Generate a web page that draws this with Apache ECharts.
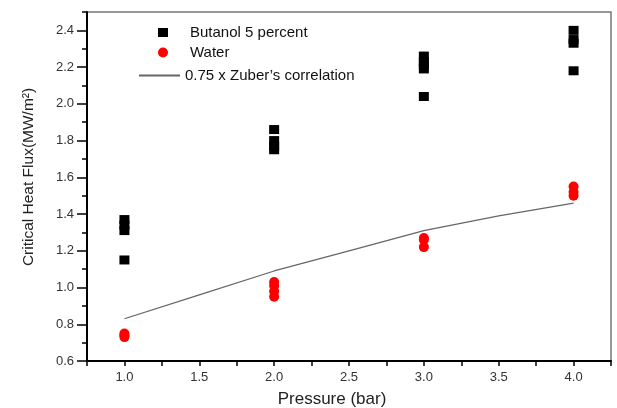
<!DOCTYPE html>
<html>
<head>
<meta charset="utf-8">
<script src="https://cdn.jsdelivr.net/npm/echarts@6/dist/echarts.min.js"></script>
<style>
  html, body { margin: 0; padding: 0; background: #fff; }
  #chart { width: 617px; height: 408px; }
</style>
</head>
<body>
<div id="chart"></div>
<script>
// data
const butanolPressure = [1, 1, 1, 1, 2, 2, 2, 2, 3, 3, 3, 3, 3, 4, 4, 4, 4];
const butanolCHF = [1.37, 1.34, 1.31, 1.15, 1.86, 1.80, 1.77, 1.75, 2.26, 2.23, 2.21, 2.19, 2.04, 2.40, 2.35, 2.33, 2.18];
const waterPressure = [1, 1, 1, 2, 2, 2, 2, 3, 3, 3, 4, 4, 4];
const waterCHF = [0.75, 0.74, 0.73, 1.03, 1.01, 0.98, 0.95, 1.27, 1.26, 1.22, 1.55, 1.52, 1.50];
const zuberPressure = [1.0, 1.5, 2.0, 2.5, 3.0, 3.5, 4.0];
const zuberCHF = [0.83, 0.96, 1.09, 1.20, 1.31, 1.39, 1.46];
const yTickValues = [0.6, 0.8, 1.0, 1.2, 1.4, 1.6, 1.8, 2.0, 2.2, 2.4];

const seriesNames = ['Butanol 5 percent', 'Water', '0.75 x Zuber\u2019s correlation'];

const chart = echarts.init(document.getElementById('chart'));

const zip = (xs, ys) => xs.map((x, i) => [x, ys[i]]);
const font = 'Liberation Sans, Arial, sans-serif';

const legendText = {
  fontFamily: font,
  fontSize: 15,
  color: '#111'
};

const option = {
  animation: false,
  backgroundColor: '#fff',
  grid: {
    left: 87, right: 6, top: 12, bottom: 47,
    outerBoundsMode: 'none',
    containLabel: false,
    show: true,
    borderColor: '#777',
    borderWidth: 1.5
  },
  legend: [
    {
      data: [seriesNames[0]], left: 153, top: 20,
      itemWidth: 10, itemHeight: 9, icon: 'rect',
      textStyle: Object.assign({ padding: [0, 0, 0, 17] }, legendText)
    },
    {
      data: [seriesNames[1]], left: 153, top: 40,
      itemWidth: 10, itemHeight: 10, icon: 'circle',
      textStyle: Object.assign({ padding: [0, 0, 0, 17] }, legendText)
    },
    {
      data: [seriesNames[2]], left: 133, top: 63,
      itemWidth: 41, itemHeight: 10,
      itemStyle: { opacity: 0 },
      textStyle: Object.assign({ padding: [0, 0, 0, 0] }, legendText)
    }
  ],
  xAxis: {
    type: 'value',
    min: 0.75, max: 4.25, interval: 0.25,
    name: 'Pressure (bar)',
    nameLocation: 'middle',
    nameGap: 30,
    nameTextStyle: { fontFamily: font, fontSize: 17, color: '#222', padding: [0, 34, 0, 0] },
    axisLine: { show: true, lineStyle: { color: '#000', width: 2 } },
    axisTick: { show: true, length: 5, lineStyle: { color: '#000', width: 1.5 } },
    axisLabel: {
      fontFamily: font, fontSize: 13, color: '#333', margin: 10,
      showMinLabel: true, showMaxLabel: true,
      formatter: v => (v >= 1 && v <= 4 && Math.abs(v * 2 - Math.round(v * 2)) < 1e-6) ? v.toFixed(1) : ''
    },
    splitLine: { show: false }
  },
  yAxis: [
    {
      type: 'value',
      min: 0.6, max: 2.5, interval: 0.2,
      name: 'Critical Heat Flux(MW/m\u00b2)',
      nameLocation: 'middle',
      nameGap: 50,
      nameTextStyle: { fontFamily: font, fontSize: 15.5, color: '#222', padding: [0, 0, 0, 19] },
      axisLine: { show: true, lineStyle: { color: '#000', width: 2 } },
      axisTick: { show: true, length: 10, lineStyle: { color: '#000', width: 1.5 }, customValues: yTickValues },
      axisLabel: {
        fontFamily: font, fontSize: 13, color: '#333', margin: 13,
        customValues: yTickValues,
        formatter: v => v > 2.45 ? '' : v.toFixed(1)
      },
      splitLine: { show: false }
    },
    {
      type: 'value',
      position: 'left',
      min: 0.6, max: 2.5, interval: 0.1,
      axisLine: { show: false },
      axisTick: { show: true, length: 5, lineStyle: { color: '#000', width: 1.5 } },
      axisLabel: { show: false },
      splitLine: { show: false }
    }
  ],
  series: [
    {
      name: seriesNames[0],
      type: 'scatter',
      symbol: 'rect',
      symbolSize: [10, 9],
      itemStyle: { color: '#000', opacity: 1 },
      data: zip(butanolPressure, butanolCHF)
    },
    {
      name: seriesNames[1],
      type: 'scatter',
      symbol: 'circle',
      symbolSize: 10,
      itemStyle: { color: '#ff0000', opacity: 1 },
      data: zip(waterPressure, waterCHF)
    },
    {
      name: seriesNames[2],
      type: 'line',
      showSymbol: false,
      symbol: 'none',
      lineStyle: { color: '#666', width: 1.3 },
      itemStyle: { color: '#555' },
      data: zip(zuberPressure, zuberCHF),
      z: 1
    }
  ]
};

chart.setOption(option);
</script>
</body>
</html>
